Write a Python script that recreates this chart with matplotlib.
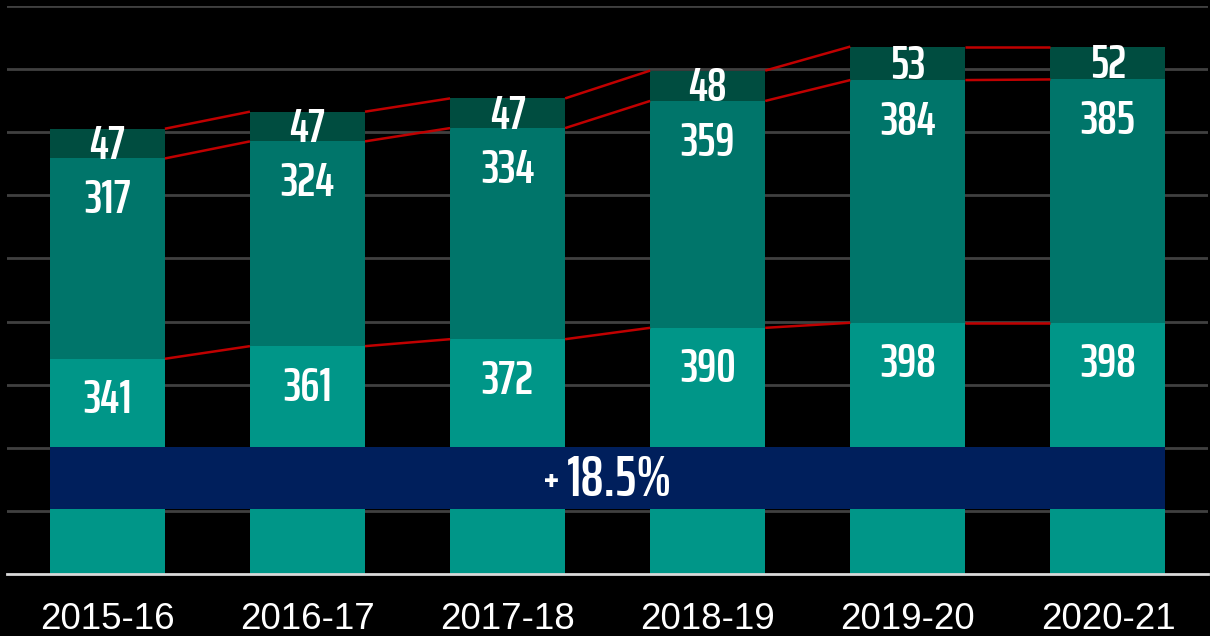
import matplotlib
matplotlib.use("Agg")
import matplotlib.pyplot as plt
import numpy as np

categories = ["2015-16", "2016-17", "2017-18", "2018-19", "2019-20", "2020-21"]
bottom_vals = [341, 361, 372, 390, 398, 398]
middle_vals = [317, 324, 334, 359, 384, 385]
top_vals = [47, 47, 47, 48, 53, 52]
banner_text_sign = "+"
banner_text_value = "18.5%"
banner_range = (103, 201)
y_max = 900
grid_step = 100

c_bottom = "#009688"
c_middle = "#00756A"
c_top = "#004D40"
c_banner = "#001F5C"
c_red = "#C00000"
c_grid = "#404040"

num_font = ["Saira ExtraCondensed", "Sofia Sans Extra Condensed", "DejaVu Sans"]

fig = plt.figure(figsize=(12.1, 6.36), dpi=100, facecolor="black")
ax = fig.add_axes([7.3 / 1210, (636 - 574.3) / 636, 1200.7 / 1210, (574.3 - 5.5) / 636])
ax.set_facecolor("black")

x = np.arange(len(categories))
w = 0.575
b = np.array(bottom_vals)
m = np.array(middle_vals)
t = np.array(top_vals)

ax.bar(x, b, w, color=c_bottom, zorder=3)
ax.bar(x, m, w, bottom=b, color=c_middle, zorder=3)
ax.bar(x, t, w, bottom=b + m, color=c_top, zorder=3)

# connector lines
for level in (b, b + m, b + m + t):
    for i in range(len(x) - 1):
        ax.plot([x[i] + w / 2, x[i + 1] - w / 2], [level[i], level[i + 1]],
                color=c_red, lw=1.8, zorder=4, solid_capstyle="butt")

# value labels
off = 65
lbl = dict(ha="center", va="center", color="white", fontsize=35, fontweight=600,
           family=num_font, zorder=6)
for i in range(len(x)):
    ax.text(x[i], b[i] - off, str(b[i]), **lbl)
    ax.text(x[i], b[i] + m[i] - off, str(m[i]), **lbl)
    ax.text(x[i], b[i] + m[i] + t[i] / 2 - 3, str(t[i]), **lbl)

# banner
left = x[0] - w / 2
right = x[-1] + w / 2
ax.fill_between([left, right], banner_range[0], banner_range[1], color=c_banner, zorder=5, lw=0)
cx = (left + right) / 2
cy = (banner_range[0] + banner_range[1]) / 2
ax.annotate(banner_text_sign, (cx, cy), xytext=(-56, -1), textcoords="offset pixels",
            ha="center", va="center", color="white", fontsize=27, fontweight=700,
            family=num_font, zorder=7)
ax.annotate(banner_text_value, (cx, cy), xytext=(12, -2), textcoords="offset pixels",
            ha="center", va="center", color="white", fontsize=41, fontweight=600,
            family=num_font, zorder=7)

ax.set_xlim(-0.5, len(x) - 0.5)
ax.set_ylim(0, y_max)
ax.set_yticks(np.arange(grid_step, y_max + 1, grid_step))
ax.yaxis.grid(True, color=c_grid, lw=2, zorder=0)
ax.set_yticklabels([])
ax.tick_params(axis="y", length=0)
ax.set_xticks(x)
ax.set_xticklabels(categories, color="white", fontsize=26.5, family=["Liberation Sans", "DejaVu Sans"])
ax.tick_params(axis="x", length=0, pad=20)
for s in ("top", "right", "left"):
    ax.spines[s].set_visible(False)
ax.spines["bottom"].set_color("#D9D9D9")
ax.spines["bottom"].set_linewidth(2)
ax.spines["bottom"].set_zorder(8)

fig.savefig("out.png", dpi=100, facecolor="black")
